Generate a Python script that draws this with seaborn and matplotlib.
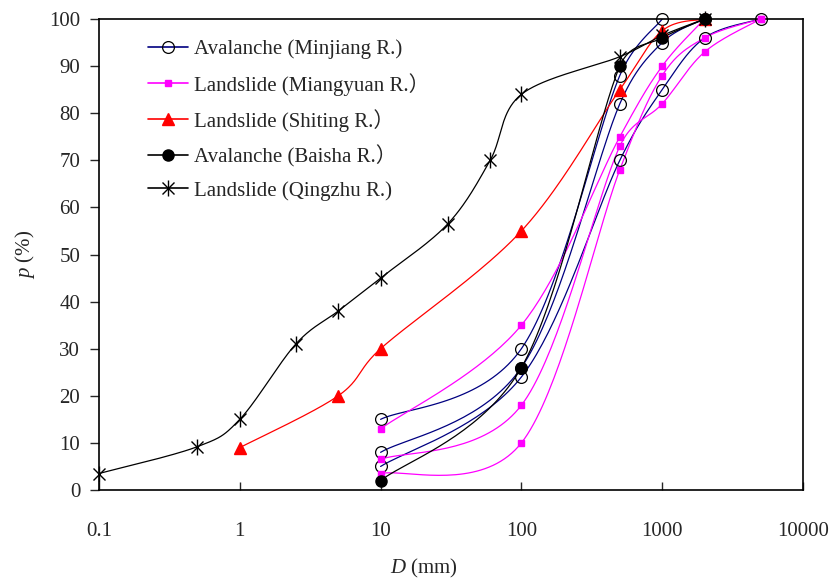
# -*- coding: utf-8 -*-
"""
Curvas granulométricas (p x D) de depósitos de avalanche e deslizamento.
Gera out.png com linhas suavizadas (estilo Excel) em escala log.
"""

import numpy as np
import pandas as pd
import matplotlib
matplotlib.use('Agg')
import matplotlib.pyplot as plt
import seaborn as sns
from matplotlib.lines import Line2D
from matplotlib.legend_handler import HandlerTuple

# ---- dados (D em mm, p em %) ----
minjiang_1_d = [10, 100, 500, 1000]
minjiang_1_p = [15, 30, 88, 100]
minjiang_2_d = [10, 100, 500, 1000, 2000]
minjiang_2_p = [8, 26, 82, 95, 100]
minjiang_3_d = [10, 100, 500, 1000, 2000, 5000]
minjiang_3_p = [5, 24, 70, 85, 96, 100]

miangyuan_1_d = [10, 100, 500, 1000, 2000]
miangyuan_1_p = [13, 35, 75, 90, 100]
miangyuan_2_d = [10, 100, 500, 1000, 2000, 5000]
miangyuan_2_p = [6.5, 18, 73, 82, 93, 100]
miangyuan_3_d = [10, 100, 500, 1000, 2000, 5000]
miangyuan_3_p = [3.5, 10, 68, 88, 96, 100]

shiting_d = [1, 5, 10, 100, 500, 1000, 2000]
shiting_p = [9, 20, 30, 55, 85, 97.5, 100]

baisha_d = [10, 100, 500, 1000, 2000]
baisha_p = [2, 26, 90, 96, 100]

qingzhu_d = [0.1, 0.5, 1, 2.5, 5, 10, 30, 60, 100, 500, 1000, 2000]
qingzhu_p = [3.5, 9.2, 15, 31, 38, 45, 56.5, 70, 84, 92, 96.5, 100]

legend_labels = [
    'Avalanche (Minjiang R.)',
    'Landslide (Miangyuan R.）',
    'Landslide (Shiting R.）',
    'Avalanche (Baisha R.）',
    'Landslide (Qingzhu R.)',
]
x_ticks = [0.1, 1, 10, 100, 1000, 10000]
x_tick_labels = ['0.1', '1', '10', '100', '1000', '10000']
y_ticks = [0, 10, 20, 30, 40, 50, 60, 70, 80, 90, 100]

# escala aproximada em pixels (para a suavização ficar parecida com a do Excel)
PX_DECADA = 141.0
PX_PCT = 4.71


def suavizar(d, p, n=40):
    """Bezier estilo Excel no espaço (log10(D), p), com controle limitado a metade do segmento."""
    pts = np.column_stack([np.log10(d) * PX_DECADA, np.asarray(p, float) * PX_PCT])
    ext = np.vstack([pts[0], pts, pts[-1]])
    t = np.linspace(0, 1, n)[:, None]
    partes = []
    for i in range(1, len(ext) - 2):
        p0, p1, p2, p3 = ext[i - 1], ext[i], ext[i + 1], ext[i + 2]
        meio = np.linalg.norm(p2 - p1) / 2
        o1 = (p2 - p0) / 6
        o2 = (p3 - p1) / 6
        n1, n2 = np.linalg.norm(o1), np.linalg.norm(o2)
        if n1 > meio:
            o1 = o1 * meio / n1
        if n2 > meio:
            o2 = o2 * meio / n2
        c1 = p1 + o1
        c2 = p2 - o2
        seg = (1 - t) ** 3 * p1 + 3 * (1 - t) ** 2 * t * c1 + 3 * (1 - t) * t ** 2 * c2 + t ** 3 * p2
        partes.append(seg if i == 1 else seg[1:])
    arr = np.vstack(partes)
    return pd.DataFrame({'D': 10 ** (arr[:, 0] / PX_DECADA), 'p': arr[:, 1] / PX_PCT})


def main():
    sns.set_style('ticks')
    plt.rcParams['font.family'] = ['Liberation Serif', 'Noto Sans CJK SC']
    plt.rcParams['mathtext.fontset'] = 'custom'
    plt.rcParams['mathtext.it'] = 'Liberation Serif:italic'
    plt.rcParams['mathtext.rm'] = 'Liberation Serif'

    fig = plt.figure(figsize=(8.33, 5.82), dpi=100)
    ax = fig.add_axes([99 / 833, 1 - 490 / 582, 704 / 833, 471 / 582])

    navy, mag, red, blk = '#000080', '#FF00FF', '#FF0000', '#000000'
    lw = 0.9

    # (d, p, cor da linha, estilo do marcador)
    series = [
        (minjiang_1_d, minjiang_1_p, navy, dict(marker='o', mfc='none', mec=blk, ms=8.5, mew=0.9)),
        (minjiang_2_d, minjiang_2_p, navy, dict(marker='o', mfc='none', mec=blk, ms=8.5, mew=0.9)),
        (minjiang_3_d, minjiang_3_p, navy, dict(marker='o', mfc='none', mec=blk, ms=8.5, mew=0.9)),
        (miangyuan_1_d, miangyuan_1_p, mag, dict(marker='s', mfc=mag, mec=mag, ms=5)),
        (miangyuan_2_d, miangyuan_2_p, mag, dict(marker='s', mfc=mag, mec=mag, ms=5)),
        (miangyuan_3_d, miangyuan_3_p, mag, dict(marker='s', mfc=mag, mec=mag, ms=5)),
        (shiting_d, shiting_p, red, dict(marker='^', mfc=red, mec=red, ms=8)),
        (baisha_d, baisha_p, blk, dict(marker='o', mfc=blk, mec=blk, ms=8)),
    ]

    for d, p, cor, mk in series:
        curva = suavizar(d, p)
        sns.lineplot(data=curva, x='D', y='p', ax=ax, color=cor, lw=lw,
                     estimator=None, sort=False)
        ax.plot(d, p, ls='none', clip_on=False, zorder=3, **mk)

    # Qingzhu: marcador estrela (x + |)
    curva = suavizar(qingzhu_d, qingzhu_p)
    sns.lineplot(data=curva, x='D', y='p', ax=ax, color=blk, lw=lw,
                 estimator=None, sort=False)
    ax.plot(qingzhu_d, qingzhu_p, ls='none', marker='x', color=blk, ms=9, mew=1.0, clip_on=False, zorder=4)
    ax.plot(qingzhu_d, qingzhu_p, ls='none', marker='|', color=blk, ms=12, mew=1.0, clip_on=False, zorder=4)

    ax.set_xscale('log')
    ax.set_xlim(0.1, 10000)
    ax.set_ylim(0, 100)
    ax.set_xticks(x_ticks)
    ax.set_xticklabels(x_tick_labels)
    ax.xaxis.set_minor_locator(matplotlib.ticker.NullLocator())
    ax.set_yticks(y_ticks)

    ax.tick_params(axis='x', direction='in', length=6, width=1.0, pad=23, labelsize=15)
    ax.tick_params(axis='y', direction='out', length=6.5, width=1.0, pad=7, labelsize=15)
    for s in ax.spines.values():
        s.set_linewidth(1.2)
        s.set_color('black')

    ax.set_xlabel('$D$ (mm)', fontsize=15)
    ax.set_ylabel('$p$ (%)', fontsize=15)
    ax.xaxis.set_label_coords(0.462, -0.166)
    ax.xaxis.label.set_va('center')
    ax.yaxis.set_label_coords(-0.105, 0.5)
    ax.yaxis.label.set_va('center')

    # legenda
    h_min = Line2D([], [], color=navy, lw=1.2, marker='o', mfc='none', mec=blk, ms=8.5, mew=0.9)
    h_mia = Line2D([], [], color=mag, lw=1.2, marker='s', mfc=mag, mec=mag, ms=5)
    h_shi = Line2D([], [], color=red, lw=1.2, marker='^', mfc=red, mec=red, ms=8)
    h_bai = Line2D([], [], color=blk, lw=1.2, marker='o', mfc=blk, mec=blk, ms=8)
    h_qz1 = Line2D([], [], color=blk, lw=1.2, marker='x', ms=9, mew=1.0)
    h_qz2 = Line2D([], [], ls='none', color=blk, marker='|', ms=12, mew=1.0)
    ax.legend([h_min, h_mia, h_shi, h_bai, (h_qz1, h_qz2)], legend_labels,
              handler_map={tuple: HandlerTuple(ndivide=1, pad=0)},
              loc='upper left', bbox_to_anchor=(0.0696, 0.956), frameon=False,
              fontsize=15, handlelength=1.92, handletextpad=0.3, labelspacing=0.64,
              borderpad=0, borderaxespad=0, numpoints=1)

    fig.savefig('out.png', dpi=100)
    plt.close(fig)


if __name__ == '__main__':
    main()
